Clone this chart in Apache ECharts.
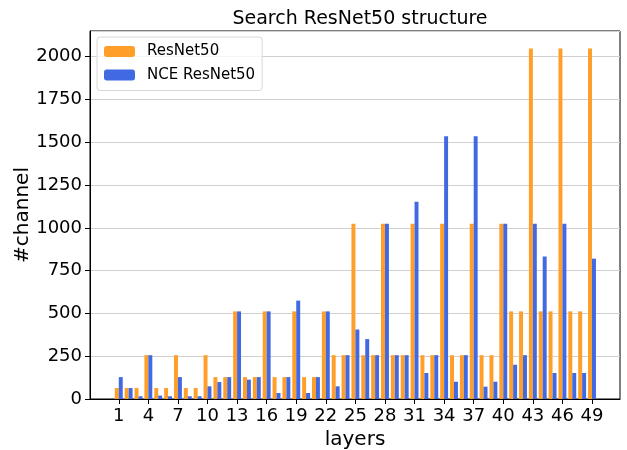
<!DOCTYPE html>
<html>
<head>
<meta charset="utf-8">
<script src="https://cdn.jsdelivr.net/npm/echarts@6/dist/echarts.min.js"></script>
<style>
  html, body { margin: 0; padding: 0; background: #fff; }
  #main { width: 627px; height: 450px; }
</style>
</head>
<body>
<div id="main"></div>
<script>
// layer index 1..49
var layers = [];
for (var i = 1; i <= 49; i++) layers.push(i);

var xTicks = [1, 4, 7, 10, 13, 16, 19, 22, 25, 28, 31, 34, 37, 40, 43, 46, 49];

var resnet50 = [
    64,
    64, 64, 256, 64, 64, 256, 64, 64, 256,
    128, 128, 512, 128, 128, 512, 128, 128, 512, 128, 128, 512,
    256, 256, 1024, 256, 256, 1024, 256, 256, 1024,
    256, 256, 1024, 256, 256, 1024, 256, 256, 1024,
    512, 512, 2048, 512, 512, 2048, 512, 512, 2048
];

var nceResnet50 = [
    128,
    64, 16, 256, 20, 16, 128, 16, 16, 74,
    99, 128, 512, 113, 128, 512, 35, 128, 575, 35, 128, 512,
    74, 256, 406, 350, 256, 1024, 256, 256, 1152,
    152, 256, 1536, 101, 256, 1536, 72, 101, 1024,
    200, 256, 1024, 832, 152, 1024, 152, 152, 820
];

var chart = echarts.init(document.getElementById('main'));
var font = 'DejaVu Sans';

function pairs(vals) {
    var out = [];
    for (var i = 0; i < layers.length; i++) {
        out.push([layers[i], vals[i]]);
    }
    return out;
}

var option = {
    animation: false,
    backgroundColor: '#fff',
    textStyle: { fontFamily: font },
    title: {
        text: 'Search ResNet50 structure',
        left: 355,
        textAlign: 'center',
        top: 5,
        textStyle: { fontFamily: font, fontSize: 19, fontWeight: 'normal', color: '#000' }
    },
    legend: {
        orient: 'vertical',
        left: 97,
        top: 37,
        padding: [7, 7, 8, 7],
        itemWidth: 31,
        itemHeight: 11,
        itemGap: 8.5,
        borderColor: '#d8d8d8',
        borderWidth: 1,
        borderRadius: 3,
        backgroundColor: 'rgba(255,255,255,0.8)',
        textStyle: { fontFamily: font, fontSize: 15, color: '#000', lineHeight: 15, padding: [0, 0, 0, 7] },
        data: ['ResNet50', 'NCE ResNet50']
    },
    grid: {
        left: 90,
        right: 7,
        top: 31,
        bottom: 51,
        show: true,
        borderColor: '#000',
        borderWidth: 1,
        outerBoundsMode: 'none',
        containLabel: false
    },
    xAxis: {
        type: 'value',
        min: -1.92,
        max: 51.84,
        name: 'layers',
        nameLocation: 'middle',
        nameGap: 27,
        nameTextStyle: { fontFamily: font, fontSize: 20, color: '#000' },
        axisLine: { show: true, onZero: false, lineStyle: { color: '#000' } },
        axisTick: { show: true, length: 5, customValues: xTicks, lineStyle: { color: '#000' } },
        axisLabel: { customValues: xTicks, fontFamily: font, fontSize: 18, color: '#000', margin: 8 },
        splitLine: { show: false }
    },
    yAxis: {
        type: 'value',
        min: 0,
        max: 2150.4,
        interval: 250,
        name: '#channel',
        nameLocation: 'middle',
        nameRotate: 90,
        nameGap: 57,
        nameMoveOverlap: false,
        nameTextStyle: { fontFamily: font, fontSize: 20, color: '#000' },
        axisLine: { show: true, onZero: false, lineStyle: { color: '#000' } },
        axisTick: { show: true, length: 5, lineStyle: { color: '#000' } },
        axisLabel: {
            fontFamily: font, fontSize: 18, color: '#000', margin: 8, showMaxLabel: false,
            formatter: function (v) { return String(v); }
        },
        splitLine: { show: true, lineStyle: { color: '#d0d0d0', width: 1 } }
    },
    series: [
        {
            name: 'ResNet50',
            type: 'bar',
            data: pairs(resnet50),
            barWidth: 3.95,
            barGap: '0%',
            itemStyle: { color: '#ff9f2a' }
        },
        {
            name: 'NCE ResNet50',
            type: 'bar',
            data: pairs(nceResnet50),
            barWidth: 3.95,
            barGap: '0%',
            itemStyle: { color: '#4169e1' }
        }
    ]
};

chart.setOption(option);
</script>
</body>
</html>
